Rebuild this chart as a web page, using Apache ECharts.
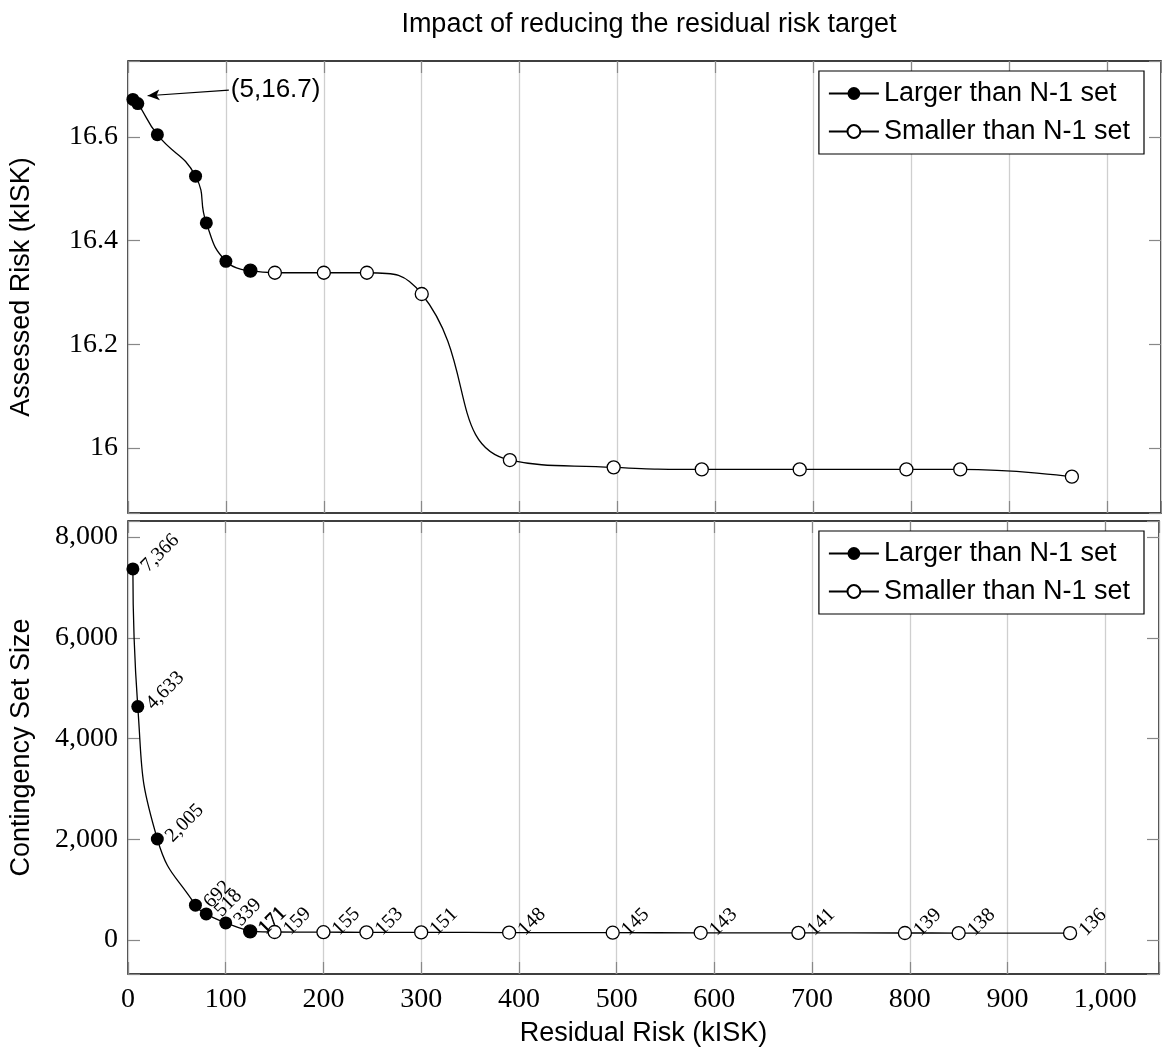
<!DOCTYPE html>
<html>
<head>
<meta charset="utf-8">
<script src="https://cdn.jsdelivr.net/npm/echarts@6/dist/echarts.min.js"></script>
<style>
  html, body { margin: 0; padding: 0; background: #fff; }
  #container { width: 1162px; height: 1057px; }
</style>
</head>
<body>
<div id="container"></div>
<script>
var myChart = echarts.init(document.getElementById('container'));

// residual risk target (kISK), shared by both panels
const residualRisk = [5, 10, 30, 69, 80, 100, 125, 150, 200, 244, 300, 390, 496, 586, 686, 795, 850, 964];
// assessed risk (kISK)
const assessedRisk = [16.672, 16.664, 16.604, 16.524, 16.434, 16.36, 16.342, 16.338, 16.338, 16.338,
  16.297, 15.977, 15.963, 15.959, 15.959, 15.959, 15.959, 15.945];
// contingency set size
const setSize = [7366, 4633, 2005, 692, 518, 339, 171, 159, 155, 153, 151, 148, 145, 143, 141, 139, 138, 136];
// points 0..lastLarger are "larger than N-1", lastLarger..end are "smaller"
const lastLarger = 6;
const seriesNames = ['Larger than N-1 set', 'Smaller than N-1 set'];
// annotation arrow (data coords) for the first point
const arrowTip = [20, 16.679];
const arrowTail = [103, 16.69];

const SANS = 'Liberation Sans';
const SERIF = 'Liberation Serif';

function pairs(ys, from, to) {
  const out = [];
  for (let i = from; i <= to; i++) out.push([residualRisk[i], ys[i]]);
  return out;
}

const fmtNum = v => Number(v).toLocaleString('en-US');

function xAxes(grid, withLabels) {
  const base = {
    type: 'value', gridIndex: grid, min: 0, max: 1055, interval: 100,
    axisLine: { show: false, onZero: false },
    axisTick: { show: true, inside: true, length: 12, lineStyle: { color: '#888', width: 1.2 } }
  };
  return [
    Object.assign({}, base, {
      position: 'bottom',
      splitLine: { show: true, lineStyle: { color: '#cfcfcf', width: 1.3 } },
      axisLabel: withLabels ? {
        show: true, margin: 12, fontFamily: SERIF, fontSize: 28, color: '#000',
        formatter: v => (v % 100 === 0 ? fmtNum(v) : '')
      } : { show: false },
      name: withLabels ? 'Residual Risk (kISK)' : '',
      nameLocation: 'middle', nameGap: 46,
      nameTextStyle: { fontFamily: SANS, fontSize: 27, color: '#000' }
    }),
    Object.assign({}, base, {
      position: 'top', splitLine: { show: false }, axisLabel: { show: false }
    })
  ];
}

function yAxes(grid, min, max, name, labelFmt) {
  const base = {
    type: 'value', gridIndex: grid, min: min, max: max, splitNumber: 5,
    axisLine: { show: false, onZero: false },
    axisTick: { show: true, inside: true, length: 12, lineStyle: { color: '#888', width: 1.2 } },
    splitLine: { show: false }
  };
  return [
    Object.assign({}, base, {
      position: 'left',
      axisLabel: { show: true, margin: 10, fontFamily: SERIF, fontSize: 28, color: '#000', formatter: labelFmt },
      name: name, nameLocation: 'middle', nameGap: 93,
      nameTextStyle: { fontFamily: SANS, fontSize: 27, color: '#000' }
    }),
    Object.assign({}, base, { position: 'right', axisLabel: { show: false } })
  ];
}

const riskFmt = v => {
  const t = Math.round(v * 10);
  if (Math.abs(v * 10 - t) > 1e-6 || t % 2 !== 0) return '';
  return String(t / 10);
};
const sizeFmt = v => (v % 2000 === 0 ? fmtNum(v) : '');

const lineStyle = { color: '#000', width: 1.3 };
const filledItem = { color: '#000' };
const openItem = { color: '#fff', borderColor: '#000', borderWidth: 1.3 };

const sizeLabel = {
  show: true, position: 'right', rotate: 45, distance: 5,
  fontFamily: SERIF, fontSize: 20, color: '#000',
  formatter: p => fmtNum(p.value[1])
};

function legend(top) {
  return {
    orient: 'vertical', right: 18, top: top,
    data: seriesNames,
    backgroundColor: '#fff', borderColor: '#000', borderWidth: 1.2,
    padding: [9, 14, 9, 9], itemGap: 11, itemWidth: 50, itemHeight: 16, itemTextGap: 9,
    textStyle: { fontFamily: SANS, fontSize: 27, color: '#000' }
  };
}

const option = {
  animation: false,
  title: {
    text: 'Impact of reducing the residual risk target',
    left: 644, top: 6, textAlign: 'center',
    textStyle: { fontFamily: SANS, fontSize: 27, fontWeight: 'normal', color: '#000' }
  },
  legend: [legend(71), legend(531)],
  grid: [
    { left: 127, right: 1, top: 61, height: 452, show: true, borderColor: '#000', borderWidth: 1.5 },
    { left: 127, right: 1, top: 521, height: 453, show: true, borderColor: '#000', borderWidth: 1.5 }
  ],
  xAxis: xAxes(0, false).concat(xAxes(1, true)),
  yAxis: yAxes(0, 15.875, 16.746, 'Assessed Risk (kISK)', riskFmt)
    .concat(yAxes(1, -675, 8318, 'Contingency Set Size', sizeFmt)),
  series: [
    {
      name: seriesNames[0], type: 'line', xAxisIndex: 0, yAxisIndex: 0, z: 3,
      smooth: 0.5, symbol: 'circle', symbolSize: 13,
      itemStyle: filledItem, lineStyle: lineStyle,
      data: pairs(assessedRisk, 0, lastLarger),
      markLine: {
        silent: true, animation: false,
        lineStyle: { color: '#000', width: 1.2, type: 'solid' },
        label: {
          show: true, position: 'end', distance: 2,
          fontFamily: SANS, fontSize: 26, color: '#000',
          formatter: '(' + residualRisk[0] + ',' + assessedRisk[0].toFixed(1) + ')'
        },
        data: [[
          { coord: arrowTip, symbol: 'arrow', symbolSize: [8, 12] },
          { coord: arrowTail, symbol: 'none' }
        ]]
      }
    },
    {
      name: seriesNames[1], type: 'line', xAxisIndex: 0, yAxisIndex: 0, z: 2,
      smooth: 0.5, symbol: 'circle', symbolSize: 13,
      itemStyle: openItem, lineStyle: lineStyle,
      data: pairs(assessedRisk, lastLarger, residualRisk.length - 1)
    },
    {
      name: seriesNames[0], type: 'line', xAxisIndex: 2, yAxisIndex: 2, z: 3,
      smooth: 0.5, symbol: 'circle', symbolSize: 13,
      itemStyle: filledItem, lineStyle: lineStyle, label: sizeLabel,
      data: pairs(setSize, 0, lastLarger)
    },
    {
      name: seriesNames[1], type: 'line', xAxisIndex: 2, yAxisIndex: 2, z: 2,
      smooth: 0.5, symbol: 'circle', symbolSize: 13,
      itemStyle: openItem, lineStyle: lineStyle, label: sizeLabel,
      data: pairs(setSize, lastLarger, residualRisk.length - 1)
    }
  ]
};

myChart.setOption(option);
</script>
</body>
</html>
